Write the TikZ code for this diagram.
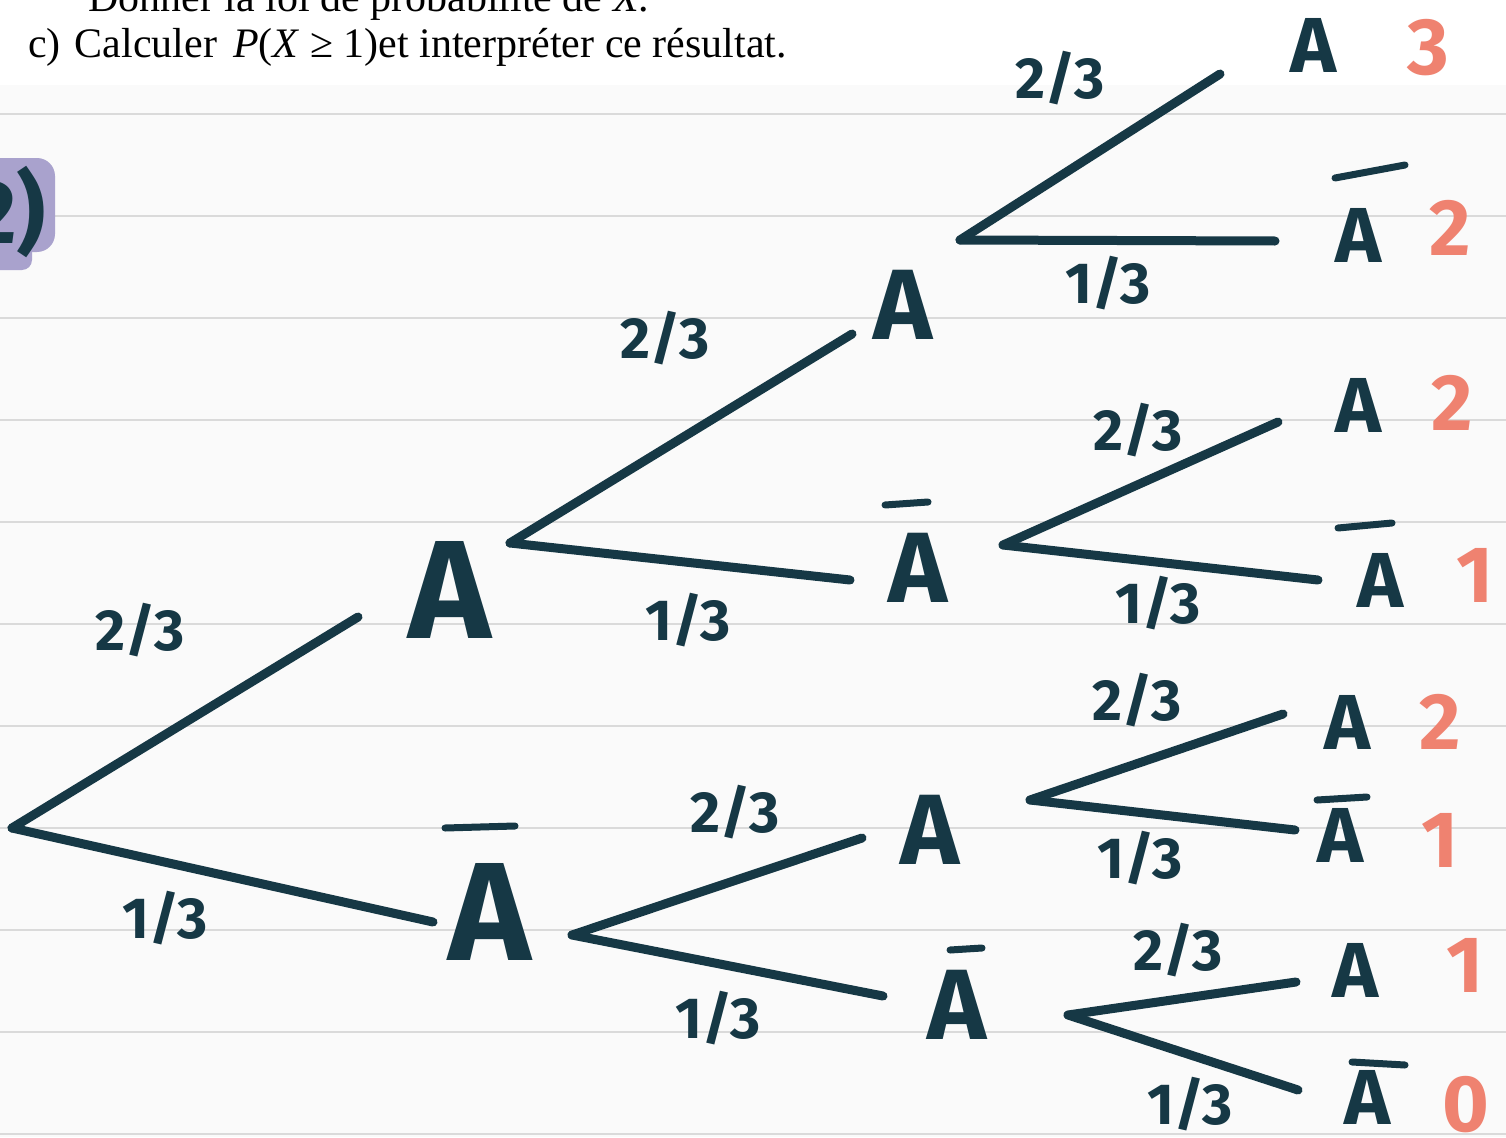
\documentclass[tikz,border=0pt]{standalone}
\usepackage{fontspec}
\setmainfont{Liberation Serif}
\newfontfamily\hand{Fira Sans}
\definecolor{ink}{HTML}{163845}
\definecolor{num}{HTML}{EF8270}
\definecolor{paper}{HTML}{FAFAFA}
\definecolor{ruled}{HTML}{DADADA}
\definecolor{blob}{HTML}{A9A2CD}
\begin{document}
\begin{tikzpicture}[x=1pt,y=-1pt,
 branch/.style={draw=ink,line width=9pt,line cap=round},
 barline/.style={draw=ink,line width=7pt,line cap=round},
 bigA/.style={text=ink,font=\hand\bfseries\fontsize{140}{140}\selectfont,inner sep=0pt},
 midA/.style={text=ink,font=\hand\bfseries\fontsize{100}{100}\selectfont,inner sep=0pt},
 leafA/.style={text=ink,font=\hand\bfseries\fontsize{78}{78}\selectfont,inner sep=0pt},
 frac/.style={text=ink,font=\hand\bfseries\fontsize{58}{58}\selectfont,inner sep=0pt},
 cnt/.style={text=num,font=\hand\bfseries\fontsize{80}{80}\selectfont,inner sep=0pt},
 question/.style={anchor=base west,inner sep=0pt,text=black,font=\fontsize{42}{42}\selectfont}]

\useasboundingbox (0,0) rectangle (1506,1137);
\fill[white] (0,0) rectangle (1506,85);
\fill[paper] (0,85) rectangle (1506,1137);
\foreach \y in {114,216,...,1134} \draw[ruled,line width=2pt] (0,\y) -- (1506,\y);

% question text
\node[question] (q1) at (88,12) {Donner la loi de probabilité de \textit{X}.};
\node[question] (q2) at (28,58) {c)\hspace{14pt}Calculer\hspace{16pt}\textit{P}(\textit{X} ≥ 1)et interpréter ce résultat.};

% purple tag
\fill[blob,rounded corners=18pt] (-30,158) rectangle (55,252);
\fill[blob,rounded corners=10pt] (-30,200) rectangle (32,270);
\node[text=ink,font=\hand\bfseries\fontsize{90}{90}\selectfont,inner sep=0pt,anchor=east] (tag) at (46,212) {2)};

% level 1
\coordinate (r) at (12,828);
\node[bigA] (A1) at (450,590) {A};
\node[bigA] (B1) at (490,912) {A};
\draw[barline] (445,828) -- (515,826);
\coordinate (A1in) at (358,617);
\coordinate (B1in) at (433,922);
\draw[branch] (r) -- (A1in);
\draw[branch] (r) -- (B1in);
\node[frac] (f1) at (140,630) {2/3};
\node[frac] (f2) at (165,918) {1/3};

% level 2 from A1
\coordinate (A1out) at (510,543);
\node[midA] (A2) at (903,305) {A};
\node[midA] (B2) at (918,568) {A};
\draw[barline] (885,505) -- (928,502);
\coordinate (A2in) at (852,334);
\coordinate (B2in) at (850,580);
\draw[branch] (A1out) -- (A2in);
\draw[branch] (A1out) -- (B2in);
\node[frac] (f3) at (665,338) {2/3};
\node[frac] (f4) at (688,620) {1/3};

% level 2 from B1
\coordinate (B1out) at (572,935);
\node[midA] (C2) at (930,830) {A};
\node[midA] (D2) at (957,1005) {A};
\draw[barline] (950,950) -- (982,948);
\coordinate (C2in) at (862,838);
\coordinate (D2in) at (883,996);
\draw[branch] (B1out) -- (C2in);
\draw[branch] (B1out) -- (D2in);
\node[frac] (f5) at (735,812) {2/3};
\node[frac] (f6) at (718,1018) {1/3};

% level 3 from A2
\coordinate (A2out) at (960,240);
\node[leafA] (L1) at (1313,45) {A};
\node[leafA] (L2) at (1358,235) {A};
\draw[barline] (1335,178) -- (1405,165);
\coordinate (L1in) at (1220,74);
\coordinate (L2in) at (1275,241);
\draw[branch] (A2out) -- (L1in);
\draw[branch] (A2out) -- (L2in);
\node[frac] (f7) at (1060,78) {2/3};
\node[frac] (f8) at (1108,283) {1/3};
\node[cnt] (n1) at (1428,48) {3};
\node[cnt] (n2) at (1450,228) {2};

% level 3 from B2
\coordinate (B2out) at (1003,545);
\node[leafA] (L3) at (1358,405) {A};
\node[leafA] (L4) at (1380,580) {A};
\draw[barline] (1338,528) -- (1392,523);
\coordinate (L3in) at (1278,422);
\coordinate (L4in) at (1318,580);
\draw[branch] (B2out) -- (L3in);
\draw[branch] (B2out) -- (L4in);
\node[frac] (f9) at (1138,430) {2/3};
\node[frac] (f10) at (1158,603) {1/3};
\node[cnt] (n3) at (1452,403) {2};
\node[cnt] (n4) at (1475,575) {1};

% level 3 from C2
\coordinate (C2out) at (1030,800);
\node[leafA] (L5) at (1347,722) {A};
\node[leafA] (L6) at (1340,835) {A};
\draw[barline] (1317,800) -- (1367,797);
\coordinate (L5in) at (1283,714);
\coordinate (L6in) at (1295,830);
\draw[branch] (C2out) -- (L5in);
\draw[branch] (C2out) -- (L6in);
\node[frac] (f11) at (1137,700) {2/3};
\node[frac] (f12) at (1140,858) {1/3};
\node[cnt] (n5) at (1440,722) {2};
\node[cnt] (n6) at (1440,840) {1};

% level 3 from D2
\coordinate (D2out) at (1068,1015);
\node[leafA] (L7) at (1355,970) {A};
\node[leafA] (L8) at (1367,1097) {A};
\draw[barline] (1352,1062) -- (1405,1065);
\coordinate (L7in) at (1296,982);
\coordinate (L8in) at (1298,1090);
\draw[branch] (D2out) -- (L7in);
\draw[branch] (D2out) -- (L8in);
\node[frac] (f13) at (1178,950) {2/3};
\node[frac] (f14) at (1190,1104) {1/3};
\node[cnt] (n7) at (1465,965) {1};
\node[cnt] (n8) at (1466,1105) {0};
\end{tikzpicture}
\end{document}
